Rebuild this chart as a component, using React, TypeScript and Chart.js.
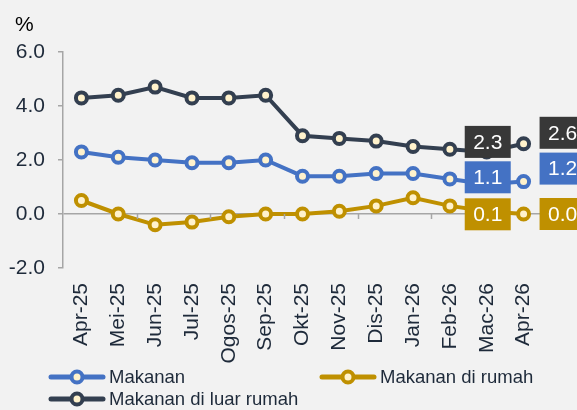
import React, { useEffect, useRef } from "react";
import { Chart, registerables } from "chart.js";

Chart.register(...registerables);

const categories = ["Apr-25", "Mei-25", "Jun-25", "Jul-25", "Ogos-25", "Sep-25", "Okt-25", "Nov-25", "Dis-25", "Jan-26", "Feb-26", "Mac-26", "Apr-26"];
const makanan = [2.3, 2.1, 2.0, 1.9, 1.9, 2.0, 1.4, 1.4, 1.5, 1.5, 1.3, 1.1, 1.2];
const makananDiRumah = [0.5, 0.0, -0.4, -0.3, -0.1, 0.0, 0.0, 0.1, 0.3, 0.6, 0.3, 0.1, 0.0];
const makananDiLuarRumah = [4.3, 4.4, 4.7, 4.3, 4.3, 4.4, 2.9, 2.8, 2.7, 2.5, 2.4, 2.3, 2.6];
const seriesNames = ["Makanan", "Makanan di rumah", "Makanan di luar rumah"];
const yTicks = [-2, 0, 2, 4, 6];

const FONT = '"Liberation Sans", Arial, sans-serif';
const TEXT = "#1e2a3a";
const AXIS = "#a6a6a6";
const COLORS = ["#4472C4", "#BF9000", "#333F50"];
const BOX_COLORS = ["#4472C4", "#BF9000", "#383838"];
const POINT_FILL = "#FFF2CC";

const percentPlugin = {
  id: "percentLabel",
  afterDraw(chart: any) {
    const ctx = chart.ctx;
    ctx.save();
    ctx.font = `21px ${FONT}`;
    ctx.fillStyle = "#000";
    ctx.textAlign = "left";
    ctx.textBaseline = "middle";
    ctx.fillText("%", 15, 25);
    ctx.restore();
  },
};

const tickMarksPlugin = {
  id: "zeroTicks",
  afterDatasetsDraw(chart: any) {
    const { ctx, scales } = chart;
    const x = scales.x;
    const y0 = scales.y.getPixelForValue(0);
    const step = (x.right - x.left) / categories.length;
    ctx.save();
    ctx.strokeStyle = AXIS;
    ctx.lineWidth = 1.5;
    for (let i = 2; i < categories.length; i += 2) {
      const px = Math.round(x.left + i * step) + 0.5;
      ctx.beginPath();
      ctx.moveTo(px, y0);
      ctx.lineTo(px, y0 + 5);
      ctx.stroke();
    }
    ctx.restore();
  },
};

const labelPlugin = {
  id: "endLabels",
  afterDatasetsDraw(chart: any) {
    const ctx = chart.ctx;
    const offsets = [
      { i: 11, anchor: "center", dy: [-7, 3, -10] },
      { i: 12, anchor: "left", dy: [-13, 0, -11] },
    ];
    ctx.save();
    ctx.font = `21px ${FONT}`;
    ctx.textAlign = "center";
    ctx.textBaseline = "middle";
    chart.data.datasets.forEach((ds: any, d: number) => {
      const meta = chart.getDatasetMeta(d);
      offsets.forEach((o) => {
        const pt = meta.data[o.i];
        if (!pt) return;
        const w = 46, h = 32;
        const cx = o.anchor === "center" ? pt.x + 1 : pt.x + 16 + w / 2;
        const cy = pt.y + o.dy[d];
        ctx.fillStyle = BOX_COLORS[d];
        ctx.fillRect(cx - w / 2, cy - h / 2, w, h);
        ctx.fillStyle = "#ffffff";
        ctx.fillText(Number(ds.data[o.i]).toFixed(1), cx, cy + 1);
      });
    });
    ctx.restore();
  },
};

const legendPlugin = {
  id: "customLegend",
  afterDraw(chart: any) {
    const ctx = chart.ctx;
    const items = [
      { x: 49, y: 377, d: 0 },
      { x: 320, y: 377, d: 1 },
      { x: 49, y: 399, d: 2 },
    ];
    ctx.save();
    items.forEach((it) => {
      const c = COLORS[it.d];
      ctx.strokeStyle = c;
      ctx.lineWidth = 5;
      ctx.lineCap = "round";
      ctx.beginPath();
      ctx.moveTo(it.x + 2, it.y);
      ctx.lineTo(it.x + 54, it.y);
      ctx.stroke();
      ctx.beginPath();
      ctx.arc(it.x + 28, it.y, 5.5, 0, Math.PI * 2);
      ctx.fillStyle = POINT_FILL;
      ctx.fill();
      ctx.lineWidth = 4;
      ctx.stroke();
      ctx.font = `18.5px ${FONT}`;
      ctx.fillStyle = TEXT;
      ctx.textAlign = "left";
      ctx.textBaseline = "middle";
      ctx.fillText(seriesNames[it.d], it.x + 60, it.y + 1);
    });
    ctx.restore();
  },
};

export default function App() {
  const ref = useRef<HTMLCanvasElement | null>(null);
  useEffect(() => {
    if (!ref.current) return;
    const series = [makanan, makananDiRumah, makananDiLuarRumah];
    const chart = new Chart(ref.current, {
      type: "line",
      data: {
        labels: categories,
        datasets: series.map((data, d) => ({
          label: seriesNames[d],
          data,
          borderColor: COLORS[d],
          borderWidth: 4,
          pointRadius: 5.5,
          pointBorderWidth: 4,
          pointBackgroundColor: POINT_FILL,
          pointBorderColor: COLORS[d],
          tension: 0,
          clip: false as any,
        })),
      },
      options: {
        animation: false,
        responsive: false,
        layout: { padding: { top: 52, left: 0, right: 35, bottom: 0 } },
        plugins: { legend: { display: false }, tooltip: { enabled: false }, title: { display: false } },
        scales: {
          x: {
            type: "category",
            offset: true,
            grid: { display: false, drawTicks: false, tickLength: 0 },
            border: { display: false },
            ticks: {
              font: { family: FONT, size: 21 },
              color: TEXT,
              minRotation: 90,
              maxRotation: 90,
              padding: 15,
              autoSkip: false,
            },
            afterFit: (s: any) => {
              s.height = 142;
            },
          },
          y: {
            min: yTicks[0],
            max: yTicks[yTicks.length - 1],
            afterBuildTicks: (s: any) => {
              s.ticks = yTicks.map((v) => ({ value: v }));
            },
            grid: {
              drawOnChartArea: true,
              color: (c: any) => (c.tick && c.tick.value === 0 ? AXIS : "transparent"),
              lineWidth: 1.5,
              tickColor: AXIS,
              tickLength: 5,
            },
            border: { display: true, color: AXIS, width: 1.5 },
            ticks: {
              font: { family: FONT, size: 21 },
              color: TEXT,
              padding: 13,
              callback: (v: any) => Number(v).toFixed(1),
            },
            afterFit: (s: any) => {
              s.width = 63;
            },
          },
        },
      },
      plugins: [tickMarksPlugin, labelPlugin, legendPlugin, percentPlugin],
    });
    return () => chart.destroy();
  }, []);
  return (
    <div style={{ position: "fixed", left: 0, top: 0, width: 577, height: 410, background: "#F2F2F2" }}>
      <canvas ref={ref} width={577} height={410} style={{ display: "block" }} />
    </div>
  );
}
